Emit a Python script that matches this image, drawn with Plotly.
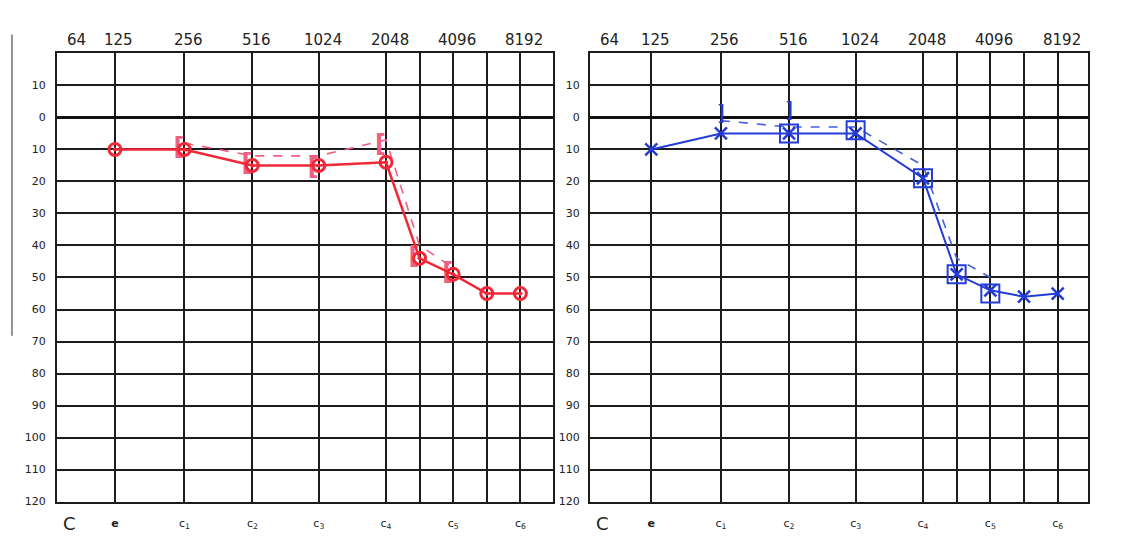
import numpy as np
import plotly.graph_objects as go

# ---------------- data ----------------
grid_freqs = [125, 256, 516, 1024, 2048, 2896, 4096, 5793, 8192]
note_labels = ["<b>e</b>", "c<sub>1</sub>", "c<sub>2</sub>", "c<sub>3</sub>", "c<sub>4</sub>",
               "", "c<sub>5</sub>", "", "c<sub>6</sub>"]
edge_note = "C"
edge_freq_label = "64"
top_label_freqs = [125, 256, 516, 1024, 2048, 4096, 8192]
top_labels = ["125", "256", "516", "1024", "2048", "4096", "8192"]
db_ticks = [-10, 0, 10, 20, 30, 40, 50, 60, 70, 80, 90, 100, 110, 120]
db_labels = ["10", "0", "10", "20", "30", "40", "50", "60", "70", "80", "90", "100", "110", "120"]

air_freqs = [125, 256, 516, 1024, 2048, 2896, 4096, 5793, 8192]
left_air_db = [10, 10, 15, 15, 14, 44, 49, 55, 55]
right_air_db = [10, 5, 5, 5, 19, 49, 54, 56, 55]

bone_freqs = [256, 516, 1024, 2048, 2896, 4096]
left_bone_db = [8, 12, 12, 7, 40, 47]
left_bracket_db = [10, 15, 16, 9, 44, 49]
right_bone_db = [1, 3, 3, 15, 44, 50]

right_box_freqs = [516, 1024, 2048, 2896, 4096]
right_box_db = [5, 4, 19, 49, 55]
right_bracket_freqs = [256, 516]
right_bracket_db = [-1, -2]

# ---------------- styles / layout ----------------
RED = "rgb(240,40,55)"
PINK = "rgb(238,95,130)"
BLUE = "rgb(35,60,215)"
BLUE_L = "rgb(70,95,225)"
GRID = "#1c1c1c"
TXT = "#222222"
FONT = "DejaVu Sans"

x_range_left = [np.log10(68.8), np.log10(11470)]
x_range_right = [np.log10(66.5), np.log10(11200)]
y_dom = [0.0876, 0.9161]
x_dom_left = [0.0434, 0.4823]
x_dom_right = [0.5150, 0.9558]

fig = go.Figure()

# left ear (red)
fig.add_trace(go.Scatter(x=bone_freqs, y=left_bone_db, mode="lines",
                         line=dict(color=PINK, width=1.6, dash="dash"),
                         xaxis="x", yaxis="y", showlegend=False))
fig.add_trace(go.Scatter(x=bone_freqs, y=left_bracket_db, mode="text", text=["<b>[</b>"] * len(bone_freqs),
                         textposition="middle left",
                         textfont=dict(color=PINK, size=24, family=FONT),
                         xaxis="x", yaxis="y", showlegend=False))
fig.add_trace(go.Scatter(x=air_freqs, y=left_air_db, mode="lines+markers",
                         line=dict(color=RED, width=2.5),
                         marker=dict(symbol="circle-open-dot", size=12, color=RED, line=dict(width=3, color=RED)),
                         xaxis="x", yaxis="y", showlegend=False))

# right ear (blue)
fig.add_trace(go.Scatter(x=bone_freqs, y=right_bone_db, mode="lines",
                         line=dict(color=BLUE_L, width=1.6, dash="dash"),
                         xaxis="x2", yaxis="y2", showlegend=False))
fig.add_trace(go.Scatter(x=right_box_freqs, y=right_box_db, mode="markers",
                         marker=dict(symbol="square-open", size=18, color=BLUE, line=dict(width=2, color=BLUE)),
                         xaxis="x2", yaxis="y2", showlegend=False))
fig.add_trace(go.Scatter(x=right_bracket_freqs, y=right_bracket_db, mode="text", text=["]"] * len(right_bracket_freqs),
                         textfont=dict(color=BLUE, size=22, family=FONT),
                         xaxis="x2", yaxis="y2", showlegend=False))
fig.add_trace(go.Scatter(x=air_freqs, y=right_air_db, mode="lines+markers",
                         line=dict(color=BLUE, width=2),
                         marker=dict(symbol="x-thin-open", size=12, color=BLUE, line=dict(width=2.5, color=BLUE)),
                         xaxis="x2", yaxis="y2", showlegend=False))

xcommon = dict(type="log", tickmode="array", tickvals=grid_freqs, ticktext=note_labels,
               showgrid=True, gridcolor=GRID, gridwidth=1.6, showline=True, linecolor=GRID, linewidth=2,
               mirror=True, ticks="", tickfont=dict(family=FONT, size=11, color=TXT),
               ticklabelstandoff=10, zeroline=False, fixedrange=True)
ycommon = dict(range=[120, -20], tickmode="array", tickvals=db_ticks, ticktext=db_labels,
               showgrid=True, gridcolor=GRID, gridwidth=2, showline=True, linecolor=GRID, linewidth=2,
               mirror=True, ticks="", tickfont=dict(family=FONT, size=11, color=TXT),
               zeroline=True, zerolinecolor="#111", zerolinewidth=2.6, domain=y_dom, fixedrange=True)

top_font = dict(family=FONT, size=15, color=TXT)
annotations = []
for xa, ya in (("x", "y"), ("x2", "y2")):
    for f, lab in zip(top_label_freqs, top_labels):
        annotations.append(dict(x=np.log10(f), y=1, xref=xa, yref=ya + " domain", text=lab,
                                showarrow=False, yanchor="bottom", yshift=2, xshift=4, font=top_font))
    annotations.append(dict(x=0, y=1, xref=xa + " domain", yref=ya + " domain", text=edge_freq_label,
                            showarrow=False, yanchor="bottom", yshift=2, xshift=8, font=top_font))
    annotations.append(dict(x=0, y=0, xref=xa + " domain", yref=ya + " domain", text=edge_note,
                            showarrow=False, yanchor="top", yshift=-9, xshift=4,
                            font=dict(family=FONT, size=18, color=TXT)))

fig.update_layout(
    width=1130, height=548,
    margin=dict(l=0, r=0, t=0, b=0),
    paper_bgcolor="white", plot_bgcolor="white",
    xaxis=dict(**xcommon, range=x_range_left, domain=x_dom_left, anchor="y"),
    xaxis2=dict(**xcommon, range=x_range_right, domain=x_dom_right, anchor="y2"),
    yaxis=dict(**ycommon, anchor="x", ticklabelstandoff=7),
    yaxis2=dict(**ycommon, anchor="x2", ticklabelstandoff=6),
    yaxis3=dict(range=[120, -20], tickmode="array", tickvals=db_ticks, ticktext=db_labels,
                overlaying="y2", side="right", anchor="x2", showgrid=False, zeroline=False,
                showline=False, ticks="", ticklabelstandoff=10,
                tickfont=dict(family=FONT, size=11, color=TXT), domain=y_dom, fixedrange=True),
    annotations=annotations,
    shapes=[dict(type="line", xref="paper", yref="paper", x0=0.0035, x1=0.0035, y0=0.951, y1=0.394,
                 line=dict(color="#666", width=1.4))],
)

fig.write_html("out.html")
